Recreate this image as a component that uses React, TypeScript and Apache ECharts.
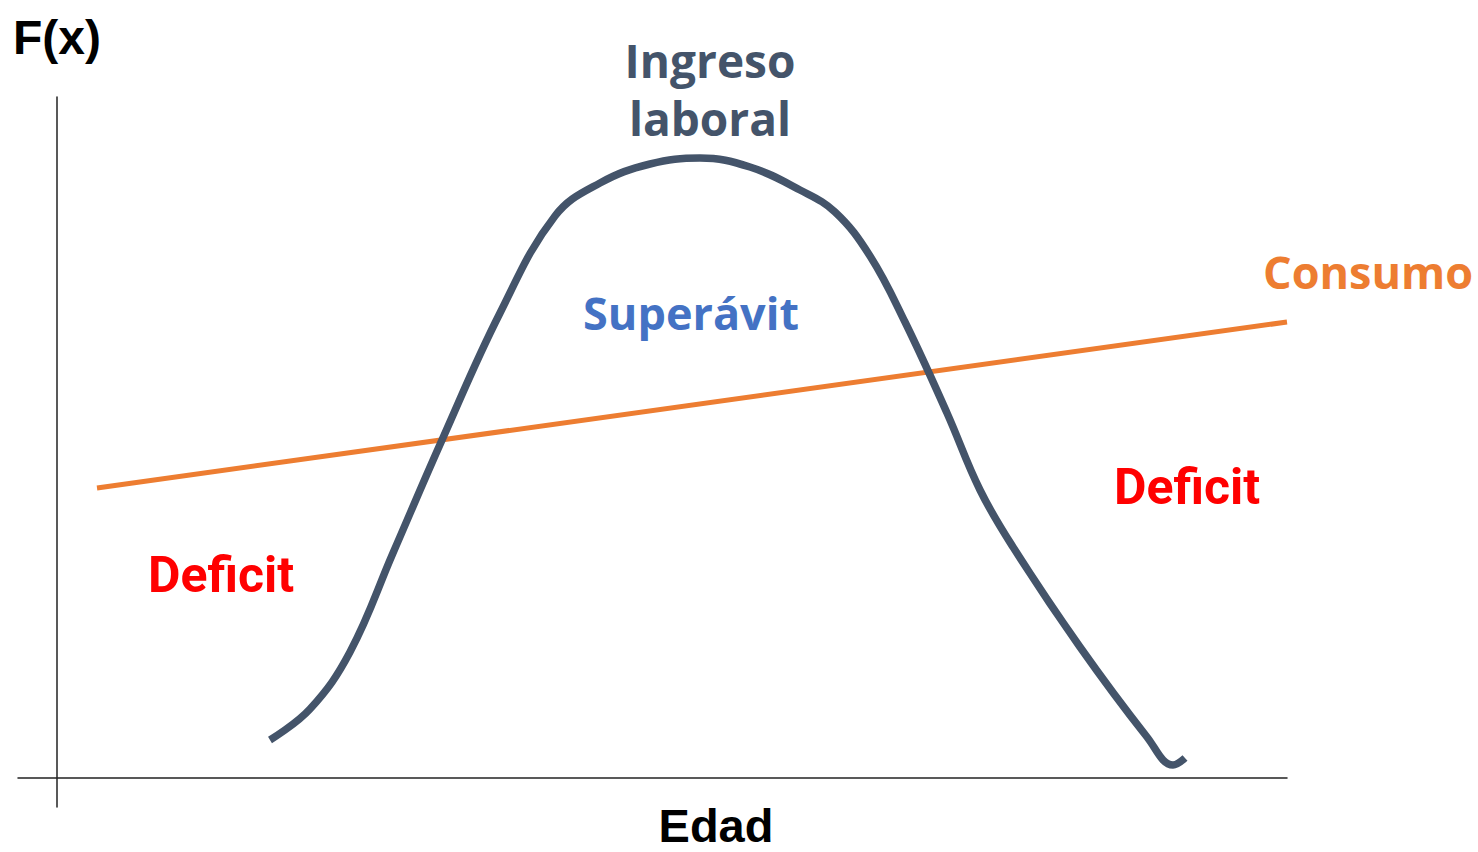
import React, { useEffect, useRef } from "react";
import * as echarts from "echarts";

// Ingreso laboral curve (x: edad units, y: F(x) units)
const ingresoX = [21.3, 25.3, 29.3, 33.6, 38.5, 44.3, 49.8, 54.3, 59.3, 64.3, 69.3, 74.3, 77.8, 81.3, 84.8, 89.0, 92.3, 95.6, 102.3, 109.0, 111.6, 112.8];
const ingresoY = [3.8, 6.9, 12.6, 22.5, 33.8, 46.5, 56.2, 59.5, 61.4, 62.0, 61.1, 58.8, 56.6, 52.2, 45.6, 36.5, 28.8, 23.1, 13.1, 4.1, 1.3, 2.0];

// Consumo line
const consumoX = [4.0, 123.0];
const consumoY = [29.0, 45.6];

const labels = {
  ingreso: "Ingreso\nlaboral",
  consumo: "Consumo",
  superavit: "Superávit",
  deficit: "Deficit",
  yName: "F(x)",
  xName: "Edad",
};

export default function App() {
  const ref = useRef<HTMLDivElement>(null);
  useEffect(() => {
    if (!ref.current) return;
    const chart = echarts.init(ref.current, undefined, { renderer: "svg" });
    const plex = "'Open Sans', 'Noto Sans', sans-serif";
    chart.setOption({
      animation: false,
      backgroundColor: "#ffffff",
      grid: { left: 18, right: 191, top: 97, bottom: 45 },
      xAxis: {
        type: "value",
        min: -3.9,
        max: 123,
        axisLine: { onZero: true, lineStyle: { color: "#222222", width: 1.5 } },
        axisTick: { show: false },
        axisLabel: { show: false },
        splitLine: { show: false },
      },
      yAxis: {
        type: "value",
        min: -2.9,
        max: 68.1,
        name: labels.yName,
        nameLocation: "end",
        nameGap: 60,
        nameTextStyle: {
          fontFamily: "'Liberation Sans', Arial, sans-serif",
          fontWeight: "bold",
          fontSize: 48,
          color: "#000000",
          verticalAlign: "middle",
          align: "center",
        },
        axisLine: { show: true, onZero: true, lineStyle: { color: "#222222", width: 1.5 } },
        axisTick: { show: false },
        axisLabel: { show: false },
        splitLine: { show: false },
      },
      series: [
        {
          name: "Consumo",
          type: "line",
          data: consumoX.map((x, i) => [x, consumoY[i]]),
          showSymbol: false,
          lineStyle: { color: "#ED7D31", width: 5 },
          emphasis: { disabled: true },
          z: 2,
        },
        {
          name: "Ingreso laboral",
          type: "line",
          data: ingresoX.map((x, i) => [x, ingresoY[i]]),
          smooth: 0.4,
          showSymbol: false,
          lineStyle: { color: "#44546A", width: 7.5, cap: "butt" },
          emphasis: { disabled: true },
          z: 3,
        },
      ],
      graphic: [
        {
          type: "text",
          x: 716,
          y: 825,
          style: {
            text: labels.xName,
            fontFamily: "'Liberation Sans', Arial, sans-serif",
            fontWeight: "bold",
            fontSize: 47,
            lineHeight: 36,
            fill: "#000000",
            align: "center",
            verticalAlign: "middle",
          },
        },
        {
          type: "text",
          x: 710,
          y: 89,
          style: {
            text: labels.ingreso,
            fontFamily: plex,
            fontWeight: "bold",
            fontSize: 46,
            lineHeight: 58,
            fill: "#44546A",
            align: "center",
            verticalAlign: "middle",
          },
        },
        {
          type: "text",
          x: 691,
          y: 312,
          style: {
            text: labels.superavit,
            fontFamily: plex,
            fontWeight: "bold",
            fontSize: 45,
            fill: "#4472C4",
            align: "center",
            verticalAlign: "middle",
          },
        },
        {
          type: "text",
          x: 1368,
          y: 271,
          style: {
            text: labels.consumo,
            fontFamily: plex,
            fontWeight: "bold",
            fontSize: 45,
            fill: "#ED7D31",
            align: "center",
            verticalAlign: "middle",
          },
        },
        {
          type: "text",
          x: 221,
          y: 575,
          style: {
            text: labels.deficit,
            fontFamily: "Roboto, sans-serif",
            fontWeight: "bold",
            fontSize: 50,
            fill: "#FF0000",
            align: "center",
            verticalAlign: "middle",
          },
        },
        {
          type: "text",
          x: 1187,
          y: 487,
          style: {
            text: labels.deficit,
            fontFamily: "Roboto, sans-serif",
            fontWeight: "bold",
            fontSize: 50,
            fill: "#FF0000",
            align: "center",
            verticalAlign: "middle",
          },
        },
      ],
    });
    return () => chart.dispose();
  }, []);
  return (
    <div
      ref={ref}
      style={{ position: "fixed", left: 0, top: 0, width: 1478, height: 852 }}
    />
  );
}
